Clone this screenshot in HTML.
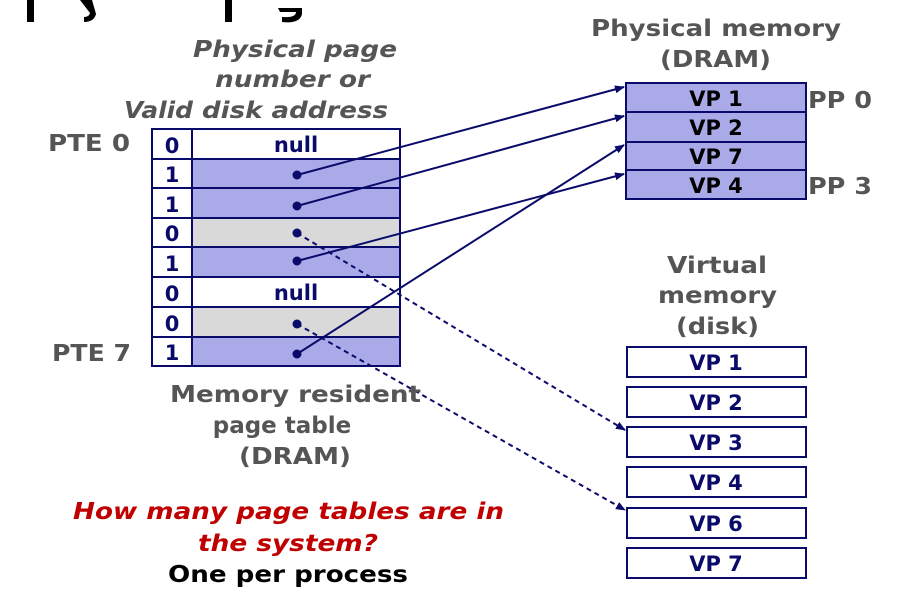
<!DOCTYPE html>
<html><head><meta charset="utf-8"><style>
html,body{margin:0;padding:0;background:#fff;}
svg{display:block;font-family:"DejaVu Sans","Liberation Sans",sans-serif;font-weight:bold;}
</style></head><body>
<svg width="906" height="600" viewBox="0 0 906 600" xmlns="http://www.w3.org/2000/svg">
<defs>
<marker id="ah" markerWidth="10" markerHeight="8" refX="9" refY="4" orient="auto" markerUnits="userSpaceOnUse">
<path d="M0,0 L10,4 L0,8 z" fill="#0a0a6a"/></marker>
</defs>
<rect x="27" y="0" width="7" height="22" fill="#000"/>
<path d="M80,0 L92,0 L96,14 Q94,22 84,22 L84,17 Q89,17 90,13 Z" fill="#000"/>
<rect x="225" y="0" width="7" height="22" fill="#000"/>
<path d="M278,8 L302,8 L302,14 Q300,24 282,22 L282,17 Q296,18 296,12 L280,12 Z" fill="#000"/>

<g fill="#555" font-size="23" font-style="italic">
<text x="193" y="57" textLength="204" lengthAdjust="spacingAndGlyphs">Physical page</text>
<text x="215" y="87" textLength="155" lengthAdjust="spacingAndGlyphs">number or</text>
<text x="124" y="118" textLength="69" lengthAdjust="spacingAndGlyphs">Valid</text>
<text x="202" y="118" textLength="186" lengthAdjust="spacingAndGlyphs">disk address</text>
</g>
<g fill="#555" font-size="23">
<text x="48" y="151" textLength="82" lengthAdjust="spacingAndGlyphs">PTE 0</text>
<text x="52" y="361" textLength="79" lengthAdjust="spacingAndGlyphs">PTE 7</text>
</g>
<g stroke="#0a0a6a" stroke-width="2">
<rect x="192" y="129" width="208" height="30" fill="#fff"/>
<rect x="192" y="159" width="208" height="29" fill="#aaaae8"/>
<rect x="192" y="188" width="208" height="30" fill="#aaaae8"/>
<rect x="192" y="218" width="208" height="29" fill="#d9d9d9"/>
<rect x="192" y="247" width="208" height="30" fill="#aaaae8"/>
<rect x="192" y="277" width="208" height="30" fill="#fff"/>
<rect x="192" y="307" width="208" height="30" fill="#d9d9d9"/>
<rect x="192" y="337" width="208" height="29" fill="#aaaae8"/>
<rect x="152" y="129" width="40" height="237" fill="#fff"/>
<line x1="152" y1="159" x2="192" y2="159"/><line x1="152" y1="188" x2="192" y2="188"/>
<line x1="152" y1="218" x2="192" y2="218"/><line x1="152" y1="247" x2="192" y2="247"/>
<line x1="152" y1="277" x2="192" y2="277"/><line x1="152" y1="307" x2="192" y2="307"/>
<line x1="152" y1="337" x2="192" y2="337"/>
</g>
<g fill="#0a0a6a" font-size="21" text-anchor="middle">
<text x="172" y="153">0</text><text x="172" y="182">1</text><text x="172" y="212">1</text>
<text x="172" y="241">0</text><text x="172" y="271">1</text><text x="172" y="301">0</text>
<text x="172" y="331">0</text><text x="172" y="360">1</text>
<text x="296" y="152">null</text><text x="296" y="300">null</text>
</g>
<g fill="#555" font-size="23">
<text x="591" y="36" textLength="250" lengthAdjust="spacingAndGlyphs">Physical memory</text>
<text x="660" y="67" textLength="111" lengthAdjust="spacingAndGlyphs">(DRAM)</text>
</g>
<g stroke="#0a0a6a" stroke-width="2" fill="#aaaae8">
<rect x="626" y="83" width="180" height="29"/>
<rect x="626" y="112" width="180" height="30"/>
<rect x="626" y="142" width="180" height="28"/>
<rect x="626" y="170" width="180" height="29"/>
</g>
<g fill="#000" font-size="21" text-anchor="middle">
<text x="716" y="106">VP 1</text><text x="716" y="135">VP 2</text>
<text x="716" y="164">VP 7</text><text x="716" y="193">VP 4</text>
</g>
<g fill="#555" font-size="23">
<text x="808" y="108" textLength="64" lengthAdjust="spacingAndGlyphs">PP 0</text>
<text x="808" y="194" textLength="64" lengthAdjust="spacingAndGlyphs">PP 3</text>
</g>
<g fill="#555" font-size="23">
<text x="667" y="273" textLength="100" lengthAdjust="spacingAndGlyphs">Virtual</text>
<text x="658" y="303" textLength="119" lengthAdjust="spacingAndGlyphs">memory</text>
<text x="676" y="334" textLength="83" lengthAdjust="spacingAndGlyphs">(disk)</text>
</g>
<g stroke="#0a0a6a" stroke-width="2" fill="#fff">
<rect x="627" y="347" width="179" height="30"/>
<rect x="627" y="387" width="179" height="30"/>
<rect x="627" y="427" width="179" height="30"/>
<rect x="627" y="467" width="179" height="30"/>
<rect x="627" y="508" width="179" height="30"/>
<rect x="627" y="548" width="179" height="30"/>
</g>
<g fill="#0a0a6a" font-size="21" text-anchor="middle">
<text x="716" y="370">VP 1</text><text x="716" y="410">VP 2</text>
<text x="716" y="450">VP 3</text><text x="716" y="490">VP 4</text>
<text x="716" y="531">VP 6</text><text x="716" y="571">VP 7</text>
</g>
<g stroke="#0a0a6a" stroke-width="2" fill="none">
<line x1="297" y1="175" x2="624" y2="87" marker-end="url(#ah)"/>
<line x1="297" y1="206" x2="624" y2="116" marker-end="url(#ah)"/>
<line x1="297" y1="261" x2="624" y2="174" marker-end="url(#ah)"/>
<line x1="297" y1="354" x2="624" y2="145" marker-end="url(#ah)"/>
<line x1="297" y1="233" x2="625" y2="430" stroke-dasharray="5,4" marker-end="url(#ah)"/>
<line x1="297" y1="324" x2="625" y2="510" stroke-dasharray="5,4" marker-end="url(#ah)"/>
</g>
<g fill="#0a0a6a">
<circle cx="297" cy="175" r="4.5"/><circle cx="297" cy="206" r="4.5"/>
<circle cx="297" cy="233" r="4.5"/><circle cx="297" cy="261" r="4.5"/>
<circle cx="297" cy="324" r="4.5"/><circle cx="297" cy="354" r="4.5"/>
</g>
<g fill="#555" font-size="23">
<text x="170" y="402" textLength="251" lengthAdjust="spacingAndGlyphs">Memory resident</text>
<text x="282" y="433" text-anchor="middle">page table</text>
<text x="239" y="464" textLength="112" lengthAdjust="spacingAndGlyphs">(DRAM)</text>
</g>
<g fill="#c00000" font-size="23" font-style="italic">
<text x="73" y="519" textLength="431" lengthAdjust="spacingAndGlyphs">How many page tables are in</text>
<text x="198" y="551" textLength="180" lengthAdjust="spacingAndGlyphs">the system?</text>
</g>
<text x="168" y="582" fill="#000" font-size="23" textLength="240" lengthAdjust="spacingAndGlyphs">One per process</text>
</svg>
</body></html>
